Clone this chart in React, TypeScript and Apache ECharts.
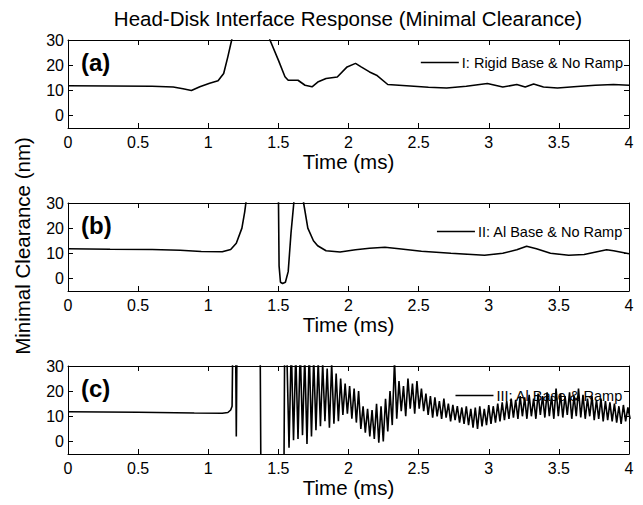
import React, { useEffect, useRef } from "react";
import * as echarts from "echarts";

const chartTitle = "Head-Disk Interface Response (Minimal Clearance)";
const yAxisTitle = "Minimal Clearance (nm)";
const xAxisTitle = "Time (ms)";
const panelLabels = ["(a)", "(b)", "(c)"];
const seriesNames = ["I: Rigid Base & No Ramp", "II: Al Base & No Ramp", "III: Al Base & Ramp"];
const yTickValues = [0, 10, 20, 30];

// Panel (a): time (ms), clearance (nm)
const timeA = [0, 0.3, 0.6, 0.75, 0.82, 0.88, 0.94, 1.01, 1.07, 1.11, 1.14, 1.167, 1.2, 1.3, 1.4, 1.44, 1.5, 1.547, 1.57, 1.64, 1.69, 1.74, 1.785, 1.84, 1.92, 1.99, 2.05, 2.09, 2.15, 2.2, 2.28, 2.44, 2.57, 2.7, 2.84, 2.99, 3.1, 3.2, 3.26, 3.32, 3.39, 3.49, 3.63, 3.76, 3.89, 4];
const valuesA = [11.8, 11.7, 11.6, 11.3, 10.6, 9.9, 11.4, 12.8, 13.8, 16.7, 23.4, 30, 40, 45, 38, 30, 22, 15.4, 14, 14, 12, 11.4, 13.4, 14.7, 15.3, 19.3, 20.7, 19.3, 17.3, 16, 12.3, 11.7, 11.2, 10.9, 11.6, 12.7, 11.3, 12.3, 11.3, 12.5, 11.3, 10.9, 11.5, 12, 12.3, 12];

// Panel (b)
const timeB = [0, 0.3, 0.6, 0.8, 0.95, 1.1, 1.16, 1.2, 1.24, 1.26, 1.28, 1.4, 1.5, 1.505, 1.515, 1.53, 1.55, 1.57, 1.59, 1.61, 1.62, 1.66, 1.68, 1.71, 1.75, 1.78, 1.84, 1.94, 2.05, 2.15, 2.26, 2.36, 2.52, 2.73, 2.97, 3.1, 3.2, 3.27, 3.34, 3.44, 3.57, 3.68, 3.84, 3.89, 4];
const valuesB = [11.8, 11.6, 11.5, 11.2, 10.7, 10.6, 11.5, 14, 20, 26.5, 35, 45, 35, 5, -1.5, -2, -1.5, 2.7, 18, 30, 40, 40, 30, 20, 15, 13, 11, 10.5, 11.4, 12, 12.4, 11.8, 10.8, 10, 9.2, 10, 11.4, 12.8, 11.8, 10, 9.2, 9.5, 11.4, 11, 9.8];

// Panel (c): smooth lead-in, then sampled oscillation
const timeCLead = [0, 0.5, 0.9, 1.1, 1.14, 1.16, 1.17, 1.175, 1.195, 1.2, 1.205, 1.37, 1.375, 1.54, 1.545];
const valuesCLead = [11.8, 11.6, 11.3, 11.2, 11.5, 12.5, 14, 40, 40, 2, 40, 40, -10, -10, 40];
const cOscStart = 1.56;
const cOscStep = 0.016;
const valuesCOsc = [
  36, -2.5, 38, 0.5, 35, 1, 37, 2.5, 34, -1, 36, 2, 33, 4.5,
  32, 6, 31, 8, 29, 5.5, 31, 7, 27, 8, 25,
  10.5, 23, 11, 22, 9, 21, 7.5, 20, 5, 14, 3.5, 13, 2, 12.5, 1, 15, -0.5, 14, 0, 17, 4, 20, 6.5,
  32, 9, 24, 12, 22, 10, 25, 13, 23, 11, 24, 13, 21, 12, 19, 10.5, 18, 9.5, 17.5, 10, 16, 9,
  17, 9.5, 15, 8, 14.5, 8.5, 14, 7.5, 13.5, 7, 14, 6.5, 13, 5.5, 13.5, 5, 14, 6, 13, 6.5,
  14.5, 7, 14, 7.5, 15, 8, 15.5, 8.5, 16, 9, 17, 9.5, 16.5, 9, 18, 10, 17.5, 9, 18.5, 10,
  17, 9, 19, 10.5, 18, 9.5, 19.5, 10, 18, 9, 21, 10, 19, 9.5, 18, 10.5, 19.5, 9, 18, 10,
  21, 9.5, 18.5, 9, 17, 10, 18, 8.5, 16.5, 9, 17, 8, 16, 8.5, 15.5, 8, 15, 7.5, 14, 7,
  14.5, 8, 13.5, 9
];

const FONT = "'Liberation Sans', Arial, Helvetica, sans-serif";

export default function App() {
  const ref = useRef<HTMLDivElement>(null);
  useEffect(() => {
    if (!ref.current) return;
    const chart = echarts.init(ref.current, undefined, { renderer: "svg" });

    const dataA = timeA.map((t, i) => [t, valuesA[i]]);
    const dataB = timeB.map((t, i) => [t, valuesB[i]]);
    const dataC = timeCLead.map((t, i) => [t, valuesCLead[i]]).concat(
      valuesCOsc.map((v, i) => [cOscStart + i * cOscStep, v])
    );
    const allData = [dataA, dataB, dataC];

    const tops = [40, 203, 366];
    const plotLeft = 68;
    const plotWidth = 561;
    const plotHeight = 88;

    const grids = tops.map((t) => ({
      left: plotLeft,
      top: t,
      width: plotWidth,
      height: plotHeight,
      show: false,
    }));

    const xAxes: any[] = [];
    const yAxes: any[] = [];
    tops.forEach((_, g) => {
      xAxes.push({
        type: "value",
        gridIndex: g,
        min: 0,
        max: 4,
        interval: 0.5,
        position: "bottom",
        name: xAxisTitle,
        nameLocation: "middle",
        nameGap: 19,
        nameTextStyle: { fontFamily: FONT, fontSize: 20.5, color: "#000" },
        axisLine: { show: true, onZero: false, lineStyle: { color: "#000", width: 1 } },
        axisTick: { show: true, inside: true, length: 5, lineStyle: { color: "#000" } },
        axisLabel: { show: true, color: "#000", fontFamily: FONT, fontSize: 16, margin: 6 },
        splitLine: { show: false },
      });
      xAxes.push({
        type: "value",
        gridIndex: g,
        min: 0,
        max: 4,
        interval: 0.5,
        position: "top",
        axisLine: { show: true, onZero: false, lineStyle: { color: "#000", width: 1 } },
        axisTick: { show: true, inside: true, length: 5, lineStyle: { color: "#000" } },
        axisLabel: { show: false },
        splitLine: { show: false },
      });
      yAxes.push({
        type: "value",
        gridIndex: g,
        min: -5,
        max: 30,
        position: "left",
        axisLine: { show: true, onZero: false, lineStyle: { color: "#000", width: 1 } },
        axisTick: { show: true, inside: true, length: 5, customValues: yTickValues, lineStyle: { color: "#000" } },
        axisLabel: { show: true, customValues: yTickValues, color: "#000", fontFamily: FONT, fontSize: 16, margin: 4 },
        splitLine: { show: false },
      });
      yAxes.push({
        type: "value",
        gridIndex: g,
        min: -5,
        max: 30,
        position: "right",
        axisLine: { show: true, onZero: false, lineStyle: { color: "#000", width: 1 } },
        axisTick: { show: true, inside: true, length: 5, customValues: yTickValues, lineStyle: { color: "#000" } },
        axisLabel: { show: false },
        splitLine: { show: false },
      });
    });

    const legendTops = [55, 224, 388];
    const legends = seriesNames.map((name, g) => ({
      data: [name],
      right: 20,
      top: legendTops[g],
      padding: 0,
      icon: "rect",
      itemWidth: 38,
      itemHeight: 1.6,
      itemGap: 4,
      selectedMode: false,
      textStyle: { fontFamily: FONT, fontSize: 14.5, color: "#000", padding: [0, 0, 0, -2] },
    }));

    const series = allData.map((d, g) => ({
      name: seriesNames[g],
      type: "line",
      xAxisIndex: 2 * g,
      yAxisIndex: 2 * g,
      data: d,
      symbol: "none",
      showSymbol: false,
      clip: true,
      lineStyle: { color: "#000", width: 1.6 },
      itemStyle: { color: "#000" },
    }));

    const graphics: any[] = [
      {
        type: "text",
        x: 348,
        y: 18,
        style: { text: chartTitle, fontFamily: FONT, fontSize: 20.5, fill: "#000", align: "center", verticalAlign: "middle" },
      },
      {
        type: "text",
        x: 22,
        y: 246,
        rotation: Math.PI / 2,
        style: { text: yAxisTitle, fontFamily: FONT, fontSize: 20.5, fill: "#000", align: "center", verticalAlign: "middle" },
      },
    ];
    panelLabels.forEach((lab, g) => {
      graphics.push({
        type: "text",
        x: 81,
        y: tops[g] + 22,
        style: { text: lab, fontFamily: FONT, fontSize: 24, fontWeight: "bold", fill: "#000", align: "left", verticalAlign: "middle" },
      });
    });

    chart.setOption({
      animation: false,
      backgroundColor: "#fff",
      grid: grids,
      xAxis: xAxes,
      yAxis: yAxes,
      legend: legends,
      series,
      graphic: graphics,
    });
    return () => chart.dispose();
  }, []);
  return <div ref={ref} style={{ position: "absolute", left: 0, top: 0, width: 643, height: 505 }} />;
}
